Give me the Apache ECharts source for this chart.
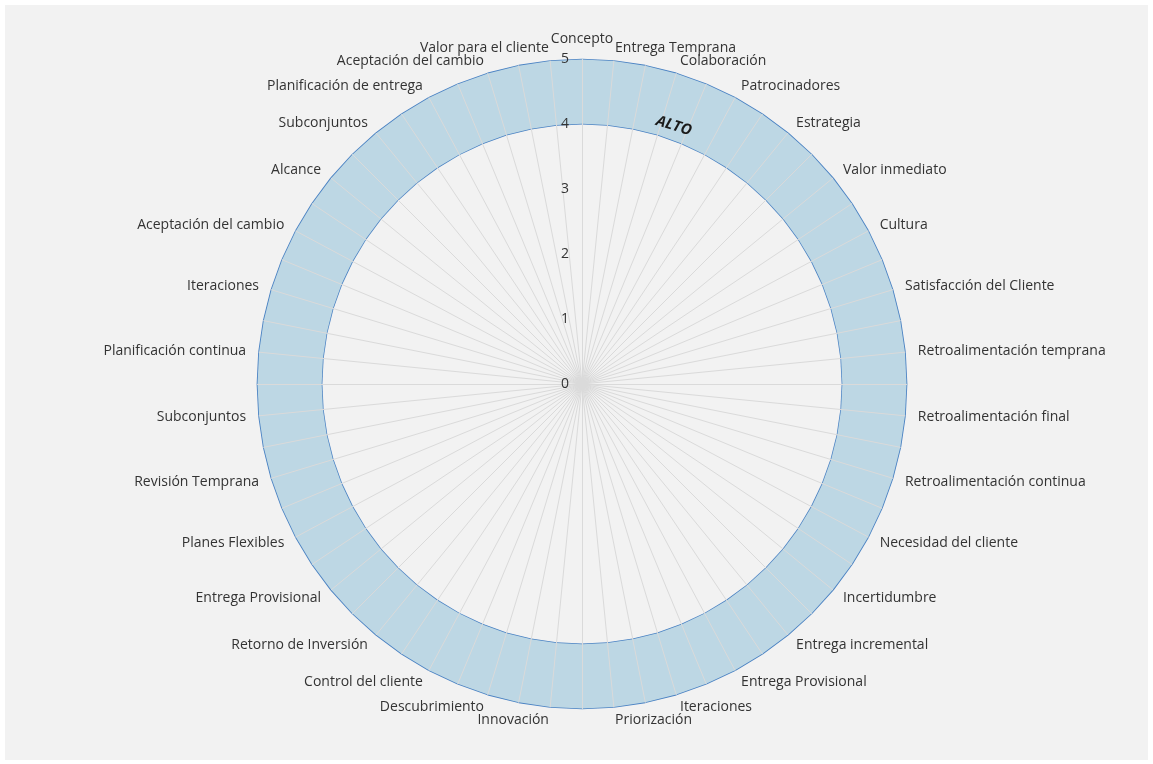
<!DOCTYPE html>
<html>
<head>
<meta charset="utf-8">
<script src="https://cdn.jsdelivr.net/npm/echarts@6/dist/echarts.min.js"></script>
<style>
  html, body { margin: 0; padding: 0; background: #ffffff; }
  #chart { position: absolute; left: 5px; top: 5px; width: 1143px; height: 755px; background: #f2f2f2; }
</style>
</head>
<body>
<div id="chart"></div>
<script>
// Categories in clockwise order starting at the top (blank = unlabeled spoke)
const categories = [
  'Concepto', 'Entrega Temprana', '', 'Colaboración', '', 'Patrocinadores', '', 'Estrategia',
  '', 'Valor inmediato', '', 'Cultura', '', 'Satisfacción del Cliente', '', 'Retroalimentación temprana',
  '', 'Retroalimentación final', '', 'Retroalimentación continua', '', 'Necesidad del cliente', '', 'Incertidumbre',
  '', 'Entrega incremental', '', 'Entrega Provisional', '', 'Iteraciones', '', 'Priorización',
  '', 'Innovación', '', 'Descubrimiento', '', 'Control del cliente', '', 'Retorno de Inversión',
  '', 'Entrega Provisional', '', 'Planes Flexibles', '', 'Revisión Temprana', '', 'Subconjuntos',
  '', 'Planificación continua', '', 'Iteraciones', '', 'Aceptación del cambio', '', 'Alcance',
  '', 'Subconjuntos', '', 'Planificación de entrega', '', 'Aceptación del cambio', '', 'Valor para el cliente'
];
// Upper boundary of the band ("ALTO" level)
const highValues = [
  5,5,5,5,5,5,5,5, 5,5,5,5,5,5,5,5, 5,5,5,5,5,5,5,5, 5,5,5,5,5,5,5,5,
  5,5,5,5,5,5,5,5, 5,5,5,5,5,5,5,5, 5,5,5,5,5,5,5,5, 5,5,5,5,5,5,5,5
];
// Lower boundary of the band
const lowValues = [
  4,4,4,4,4,4,4,4, 4,4,4,4,4,4,4,4, 4,4,4,4,4,4,4,4, 4,4,4,4,4,4,4,4,
  4,4,4,4,4,4,4,4, 4,4,4,4,4,4,4,4, 4,4,4,4,4,4,4,4, 4,4,4,4,4,4,4,4
];
const axisMin = 0, axisMax = 5, axisSplits = 5;
const bandLabel = 'ALTO';

// ECharts radar places indicators counter-clockwise; reorder to read clockwise.
const order = [0];
for (let i = categories.length - 1; i >= 1; i--) order.push(i);

const FONT = 'Open Sans';
const TEXT = '#333333';

const indicators = order.map(function (i, k) {
  const ind = { name: categories[i], min: axisMin, max: axisMax };
  if (k === 0) {
    ind.axisLabel = { show: true };
  }
  return ind;
});

const chart = echarts.init(document.getElementById('chart'), null, { renderer: 'canvas' });
const option = {
  backgroundColor: '#f2f2f2',
  animation: false,
  radar: {
    z: 5,
    center: [577, 379],
    radius: 324.5,
    startAngle: 90,
    splitNumber: axisSplits,
    shape: 'polygon',
    indicator: indicators,
    nameGap: 13,
    axisName: { color: TEXT, fontFamily: FONT, fontSize: 14 },
    axisLine: { show: true, lineStyle: { color: '#dadada', width: 1 } },
    axisTick: { show: false },
    axisLabel: { show: false, color: TEXT, fontFamily: FONT, fontSize: 14, margin: 13 },
    splitLine: { show: false },
    splitArea: { show: false }
  },
  series: [{
    type: 'radar',
    z: 1,
    symbol: 'none',
    silent: true,
    data: [
      {
        value: order.map(function (i) { return highValues[i]; }),
        lineStyle: { color: '#4a82c3', width: 1.75 },
        areaStyle: { color: '#bdd7e4', opacity: 1 }
      },
      {
        value: order.map(function (i) { return lowValues[i]; }),
        lineStyle: { color: '#4a82c3', width: 1.5 },
        areaStyle: { color: '#f2f2f2', opacity: 1 }
      }
    ]
  }]
};
chart.setOption(option);

// "ALTO" annotation placed in the band, using the radar coordinate system
const cs = chart.getModel().getComponent('radar', 0).coordinateSystem;
const ang = 19.6 * Math.PI / 180; // clockwise from top
const rr = cs.r * 4.22 / axisMax;
chart.setOption({
  graphic: [{
    type: 'text',
    x: cs.cx + rr * Math.sin(ang),
    y: cs.cy - rr * Math.cos(ang),
    rotation: -17 * Math.PI / 180,
    z: 10,
    style: {
      text: bandLabel,
      fontFamily: FONT,
      fontSize: 15,
      fontWeight: 'bold',
      fontStyle: 'italic',
      fill: '#1a1a1a',
      align: 'center',
      verticalAlign: 'middle'
    }
  }]
});
</script>
</body>
</html>
